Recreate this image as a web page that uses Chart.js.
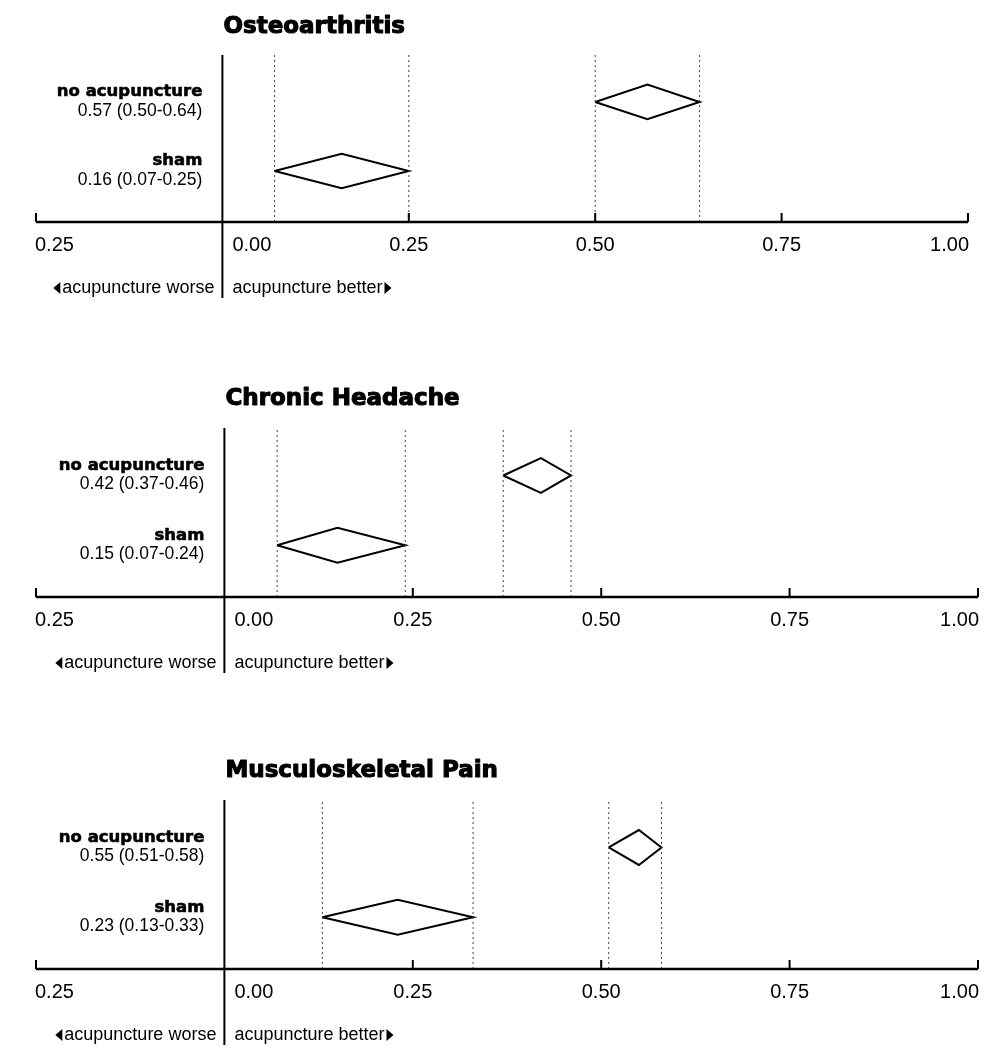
<!DOCTYPE html>
<html>
<head>
<meta charset="utf-8">
<script src="https://cdn.jsdelivr.net/npm/chart.js@4.4.1/dist/chart.umd.min.js"></script>
<style>
  html, body { margin: 0; padding: 0; background: #fff; overflow: hidden; }
  .panel { position: absolute; left: 0; width: 1008px; height: 304px; }
</style>
</head>
<body>
<div class="panel" style="top:0px"><canvas id="panel0" width="1008" height="304"></canvas></div>
<div class="panel" style="top:372px"><canvas id="panel1" width="1008" height="304"></canvas></div>
<div class="panel" style="top:744px"><canvas id="panel2" width="1008" height="304"></canvas></div>
<script>
// data
const panelTitles = ['Osteoarthritis', 'Chronic Headache', 'Musculoskeletal Pain'];
const comparisons = ['no acupuncture', 'sham'];
const estimates = [[0.57, 0.16], [0.42, 0.15], [0.55, 0.23]];
const lowerCI   = [[0.50, 0.07], [0.37, 0.07], [0.51, 0.13]];
const upperCI   = [[0.64, 0.25], [0.46, 0.24], [0.58, 0.33]];
const tickValues = [-0.25, 0, 0.25, 0.5, 0.75, 1];
const tickLabels = ['0.25', '0.00', '0.25', '0.50', '0.75', '1.00'];

const rowY = [2, 1];          // row position of each comparison
const yMin = 0.26, yMax = 2.68;
const halfH = 0.25;           // diamond half height (y units)
const SANS = '"Liberation Sans", Arial, Helvetica, sans-serif';
const HEAVY = '"DejaVu Sans", Arial, sans-serif';

function tri(ctx, x, y, dir) {
  ctx.beginPath();
  ctx.moveTo(x, y - 6);
  ctx.lineTo(x, y + 6);
  ctx.lineTo(x + dir * 7, y);
  ctx.closePath();
  ctx.fill();
}

// fake a black weight by stroking the bold glyphs
function heavyText(ctx, txt, x, y, w) {
  ctx.fillText(txt, x, y);
  ctx.lineWidth = w;
  ctx.lineJoin = 'round';
  ctx.strokeText(txt, x, y);
}

const forestDecor = {
  id: 'forestDecor',
  afterDraw(chart, args, opts) {
    const { ctx, chartArea: a, scales: { x, y } } = chart;
    const p = opts.panel;
    const x0 = x.getPixelForValue(0);
    ctx.save();
    ctx.strokeStyle = '#000';
    ctx.fillStyle = '#000';

    // zero line
    ctx.lineWidth = 2;
    ctx.beginPath();
    ctx.moveTo(x0, a.top);
    ctx.lineTo(x0, a.bottom + 76);
    ctx.stroke();

    // axis line + upward ticks
    ctx.lineWidth = 2.5;
    ctx.beginPath();
    ctx.moveTo(a.left, a.bottom);
    ctx.lineTo(a.right, a.bottom);
    ctx.stroke();
    ctx.font = '20px ' + SANS;
    ctx.textBaseline = 'middle';
    tickValues.forEach((v, i) => {
      const px = x.getPixelForValue(v);
      if (v !== 0) {
        ctx.lineWidth = 2;
        ctx.beginPath();
        ctx.moveTo(px, a.bottom);
        ctx.lineTo(px, a.bottom - 9);
        ctx.stroke();
      }
      let tx = px;
      if (i === 0) { ctx.textAlign = 'left'; tx = px - 1; }
      else if (v === 0) { ctx.textAlign = 'left'; tx = px + 10; }
      else if (i === tickValues.length - 1) { ctx.textAlign = 'right'; tx = px + 1; }
      else ctx.textAlign = 'center';
      ctx.fillText(tickLabels[i], tx, a.bottom + 23);
    });

    // title
    ctx.font = 'bold 23px ' + HEAVY;
    ctx.textAlign = 'left';
    heavyText(ctx, panelTitles[p], x0 + 1, 27, 1.1);

    // row labels
    ctx.textAlign = 'right';
    comparisons.forEach((c, r) => {
      const py = y.getPixelForValue(rowY[r]);
      ctx.font = 'bold 16.5px ' + HEAVY;
      heavyText(ctx, c, x0 - 20, py - 10, 0.6);
      ctx.font = '17.5px ' + SANS;
      const txt = estimates[p][r].toFixed(2) + ' (' + lowerCI[p][r].toFixed(2) + '-' + upperCI[p][r].toFixed(2) + ')';
      ctx.fillText(txt, x0 - 20, py + 9);
    });

    // direction labels
    const by = a.bottom + 66;
    ctx.font = '18px ' + SANS;
    ctx.textAlign = 'right';
    ctx.fillText('acupuncture worse', x0 - 8, by);
    const wW = ctx.measureText('acupuncture worse').width;
    tri(ctx, x0 - 10 - wW, by, -1);
    ctx.textAlign = 'left';
    ctx.fillText('acupuncture better', x0 + 10, by);
    const bW = ctx.measureText('acupuncture better').width;
    tri(ctx, x0 + 12 + bW, by, 1);

    ctx.restore();
  }
};

const geometry = [
  { top: 55, bottom: 82, right: 40 },
  { top: 56, bottom: 79, right: 30 },
  { top: 56, bottom: 79, right: 30 }
];

panelTitles.forEach((title, p) => {
  const datasets = [];
  comparisons.forEach((c, r) => {
    const lo = lowerCI[p][r], hi = upperCI[p][r], est = estimates[p][r], ry = rowY[r];
    // dotted guides at CI bounds
    [lo, hi].forEach(v => {
      datasets.push({
        data: [{ x: v, y: yMin }, { x: v, y: yMax }],
        showLine: true,
        borderColor: '#444',
        borderWidth: 1,
        borderDash: [2, 3],
        pointRadius: 0
      });
    });
    // diamond
    datasets.push({
      label: c,
      data: [
        { x: lo, y: ry }, { x: est, y: ry + halfH },
        { x: hi, y: ry }, { x: est, y: ry - halfH }, { x: lo, y: ry }
      ],
      showLine: true,
      borderColor: '#000',
      borderWidth: 2,
      borderJoinStyle: 'miter',
      pointRadius: 0,
      tension: 0
    });
  });

  const g = geometry[p];
  new Chart(document.getElementById('panel' + p).getContext('2d'), {
    type: 'scatter',
    data: { datasets },
    plugins: [forestDecor],
    options: {
      responsive: false,
      animation: false,
      layout: { padding: { left: 36, right: g.right, top: g.top, bottom: g.bottom } },
      plugins: {
        legend: { display: false },
        tooltip: { enabled: false },
        forestDecor: { panel: p }
      },
      scales: {
        x: { type: 'linear', min: -0.25, max: 1, display: false },
        y: { type: 'linear', min: yMin, max: yMax, display: false }
      }
    }
  });
});
</script>
</body>
</html>
